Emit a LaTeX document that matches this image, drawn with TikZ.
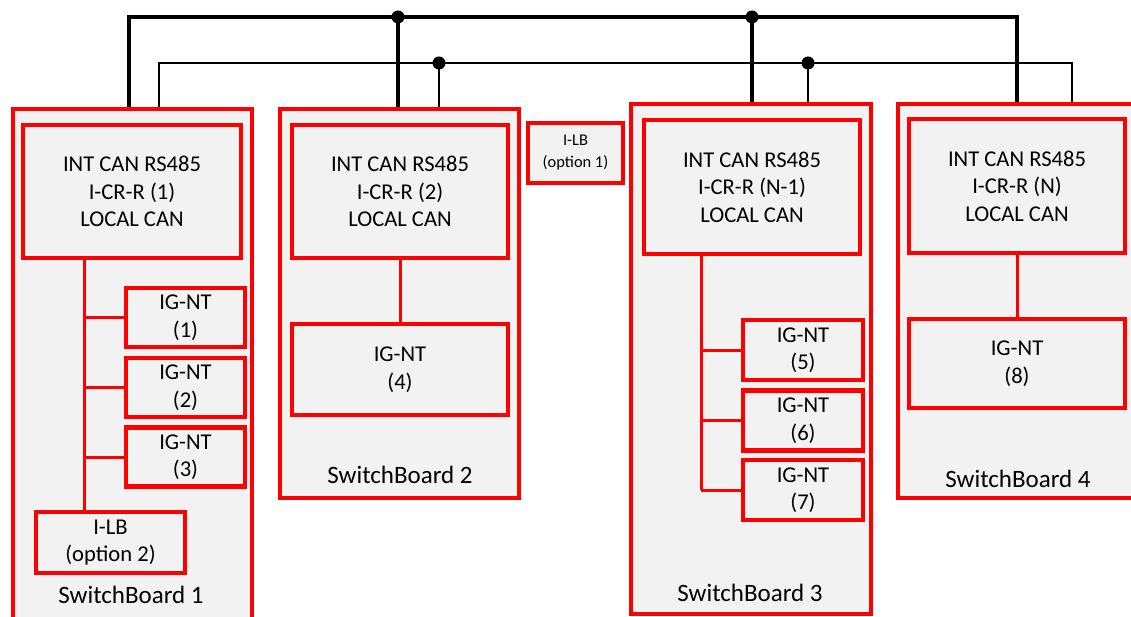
\documentclass[tikz,border=0pt]{standalone}
\usepackage{fontspec}
\setmainfont{Carlito}
\usepackage{tikz}
\usetikzlibrary{positioning, calc}
\definecolor{boardred}{HTML}{FF0000}
\definecolor{boardgray}{HTML}{F2F2F2}

\begin{document}
\begin{tikzpicture}[
        x=1pt, y=-1pt,
        font=\fontsize{22.6}{27.5}\selectfont,
        board/.style={draw=boardred, fill=boardgray, line width=4pt, inner sep=0pt},
        unit/.style={draw=boardred, fill=boardgray, line width=4.6pt, align=center, inner sep=0pt},
        small/.style={unit, font=\fontsize{16.4}{22}\selectfont},
        caption/.style={font=\fontsize{25}{30}\selectfont},
        link/.style={draw=boardred, line width=3pt},
        busa/.style={draw=black, line width=3.2pt},
        busb/.style={draw=black, line width=2.2pt},
        dot/.style={fill=black}
    ]
        \useasboundingbox (0,0) rectangle (1131,617);
        \clip (0,0) rectangle (1131,617);

        % switchboards
        \node[board, minimum width=239pt, minimum height=531pt] (sb1) at (132.5,374.5) {};
        \node[board, minimum width=239pt, minimum height=389pt] (sb2) at (399.5,303.5) {};
        \node[board, minimum width=240pt, minimum height=510pt] (sb3) at (751,359) {};
        \node[board, minimum width=262pt, minimum height=394pt] (sb4) at (1029,301) {};

        % can bus
        \coordinate (a1) at (129,17);
        \coordinate (a2) at (398,17);
        \coordinate (a3) at (752,17);
        \coordinate (a4) at (1017,17);
        \coordinate (b1) at (159,63);
        \coordinate (b2) at (439,63);
        \coordinate (b3) at (808,63);
        \coordinate (b4) at (1072,63);
        \draw[busa] (sb1.north -| a1) -- (a1) -- (a4) -- (sb4.north -| a4);
        \draw[busa] (a2) -- (sb2.north -| a2);
        \draw[busa] (a3) -- (sb3.north -| a3);
        \draw[busb] (sb1.north -| b1) -- (b1) -- (b4) -- (sb4.north -| b4);
        \draw[busb] (b2) -- (sb2.north -| b2);
        \draw[busb] (b3) -- (sb3.north -| b3);
        \fill[dot] (a2) circle (6.5pt);
        \fill[dot] (a3) circle (6.5pt);
        \fill[dot] (b2) circle (6.5pt);
        \fill[dot] (b3) circle (6.5pt);

        % controllers
        \node[unit, minimum width=218pt, minimum height=133pt] (cr1) at (132,191.5) {INT CAN RS485\\I-CR-R (1)\\LOCAL CAN};
        \node[unit, minimum width=216pt, minimum height=133pt] (cr2) at (400,191.5) {INT CAN RS485\\I-CR-R (2)\\LOCAL CAN};
        \node[unit, minimum width=216pt, minimum height=134pt] (cr3) at (752,187) {INT CAN RS485\\I-CR-R (N-1)\\LOCAL CAN};
        \node[unit, minimum width=216pt, minimum height=134pt] (cr4) at (1017,186) {INT CAN RS485\\I-CR-R (N)\\LOCAL CAN};
        \node[small, minimum width=95pt, minimum height=60pt] (lb1) at (575.5,153) {I-LB\\(option 1)};

        % gen-sets
        \node[unit, minimum width=119pt, minimum height=59pt] (ig1) at (185.5,317.5) {IG-NT\\(1)};
        \node[unit, minimum width=119pt, minimum height=59pt] (ig2) at (185.5,387.5) {IG-NT\\(2)};
        \node[unit, minimum width=119pt, minimum height=59pt] (ig3) at (185.5,457) {IG-NT\\(3)};
        \node[unit, minimum width=149pt, minimum height=61pt] (lb2) at (110.5,542.5) {I-LB\\(option 2)};
        \node[unit, minimum width=216pt, minimum height=91pt] (ig4) at (400,369.5) {IG-NT\\(4)};
        \node[unit, minimum width=120pt, minimum height=60pt] (ig5) at (803,350) {IG-NT\\(5)};
        \node[unit, minimum width=120pt, minimum height=60pt] (ig6) at (803,420.5) {IG-NT\\(6)};
        \node[unit, minimum width=120pt, minimum height=60pt] (ig7) at (803,490) {IG-NT\\(7)};
        \node[unit, minimum width=216pt, minimum height=89pt] (ig8) at (1017,363.5) {IG-NT\\(8)};

        % local can
        \coordinate (bus1) at (84,0);
        \coordinate (bus3) at (701,0);
        \draw[link] (cr1.south -| bus1) -- (lb2.north -| bus1);
        \draw[link] (ig1.west) -- (ig1.west -| bus1);
        \draw[link] (ig2.west) -- (ig2.west -| bus1);
        \draw[link] (ig3.west) -- (ig3.west -| bus1);
        \draw[link] (cr2.south) -- (ig4.north);
        \draw[link] (cr3.south -| bus3) -- (ig7.west -| bus3);
        \draw[link] (ig5.west) -- (ig5.west -| bus3);
        \draw[link] (ig6.west) -- (ig6.west -| bus3);
        \draw[link] (ig7.west) -- (ig7.west -| bus3);
        \draw[link] (cr4.south) -- (ig8.north);

        % captions
        \node[caption] (cap1) at (131,595) {SwitchBoard 1};
        \node[caption] (cap2) at (400,475) {SwitchBoard 2};
        \node[caption] (cap3) at (750,593) {SwitchBoard 3};
        \node[caption] (cap4) at (1018,479) {SwitchBoard 4};
    \end{tikzpicture}
\end{document}
